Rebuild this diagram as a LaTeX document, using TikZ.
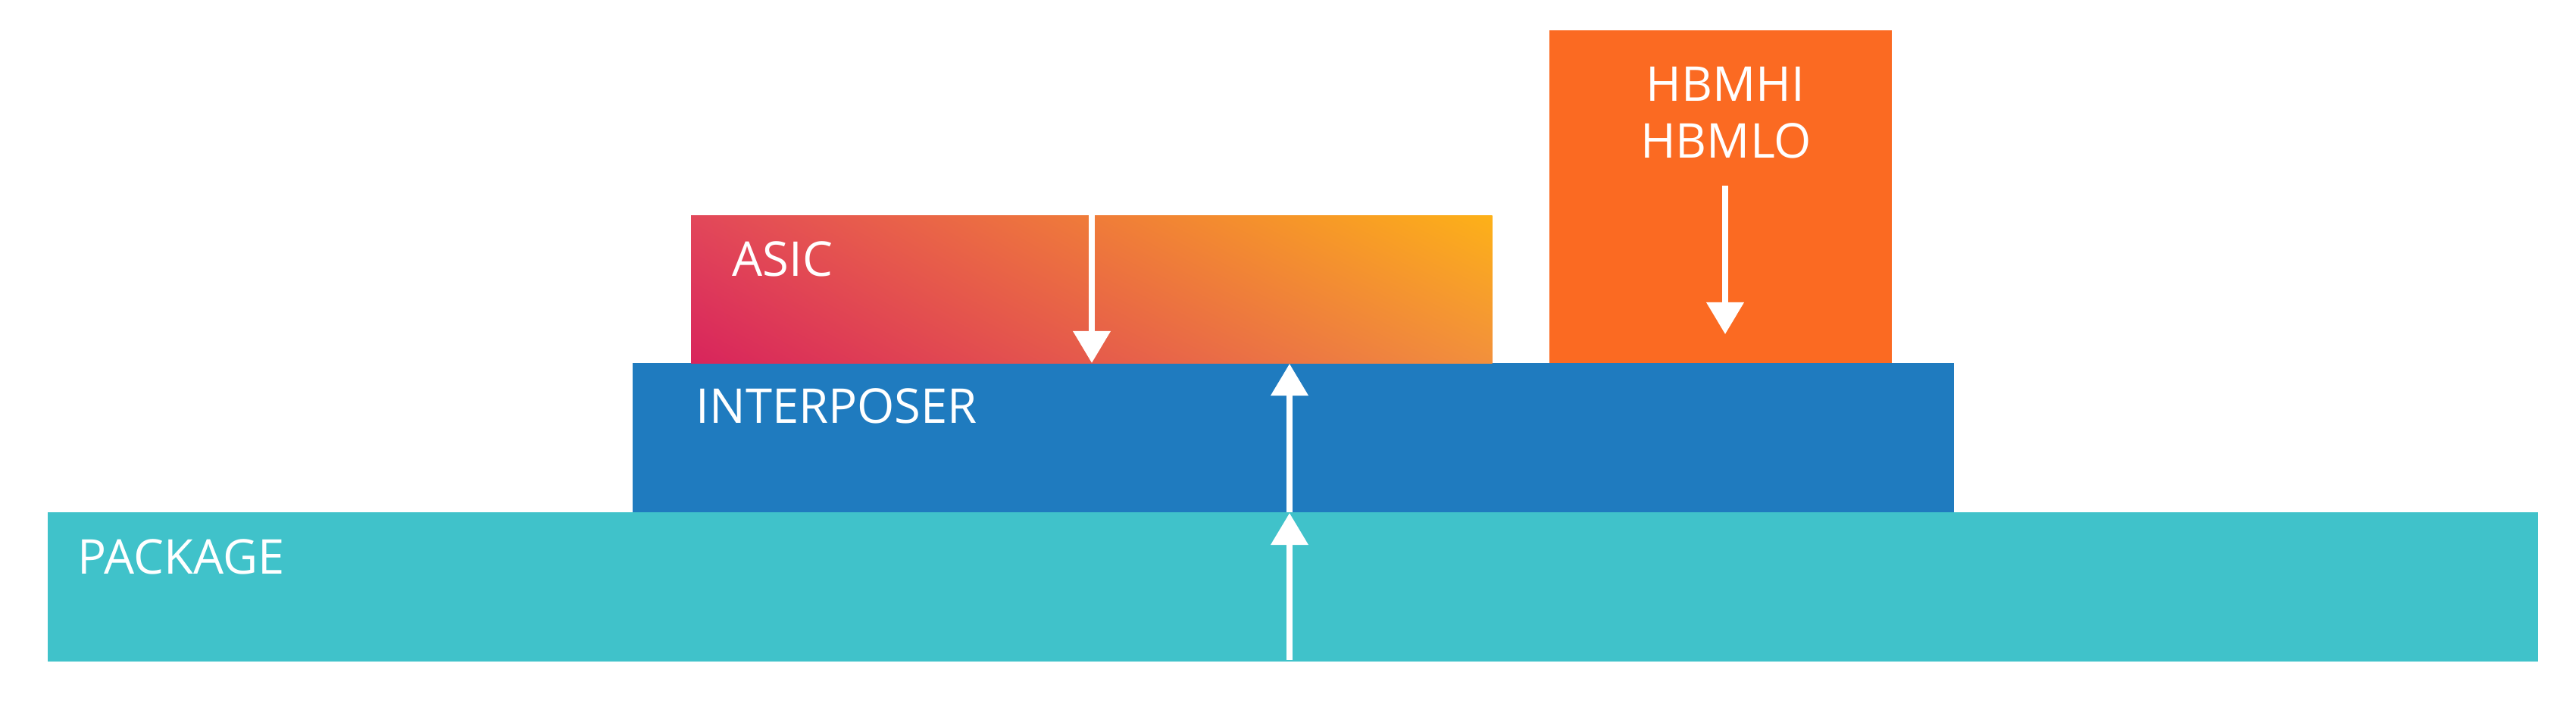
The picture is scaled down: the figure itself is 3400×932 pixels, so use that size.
\documentclass[tikz,border=0pt]{standalone}
\usepackage{fontspec}
\setmainfont{Open Sans}
\usetikzlibrary{arrows.meta,shadings}
\definecolor{pkgcol}{HTML}{40C2CA}
\definecolor{intcol}{HTML}{1F7BBF}
\definecolor{hbmcol}{HTML}{FB6A22}
\definecolor{asicUL}{HTML}{E2475A}
\definecolor{asicUR}{HTML}{FDB118}
\definecolor{asicLL}{HTML}{D8245C}
\definecolor{asicLR}{HTML}{F2903C}
\begin{document}
\begin{tikzpicture}[x=0.01cm,y=-0.01cm,
  layer/.style={draw=none,inner sep=0pt,outer sep=0pt,anchor=north west},
  lbl/.style={text=white,font=\fontsize{18pt}{21pt}\selectfont,inner sep=0pt,anchor=base west},
  flow/.style={draw=white,line width=2.1pt,-{Triangle[width=13.7pt,length=12pt]}}]
\useasboundingbox[fill=white] (0,0) rectangle (3400,932);
% layers
\node[layer,fill=pkgcol,minimum width=32.85cm,minimum height=1.97cm] (package) at (63,676) {};
\node[layer,fill=intcol,minimum width=17.43cm,minimum height=1.97cm] (interposer) at (835,479) {};
\node[layer,fill=hbmcol,minimum width=4.52cm,minimum height=4.39cm] (hbm) at (2045,40) {};
\node[layer,minimum width=10.57cm,minimum height=1.95cm,
  upper left=asicUL,upper right=asicUR,lower left=asicLL,lower right=asicLR] (asic) at (912,284) {};
% labels
\node[lbl] (tasic) at (966,364) {ASIC};
\node[lbl] (tint) at (918,558) {INTERPOSER};
\node[lbl] (tpkg) at (102,757) {PACKAGE};
\node[lbl,anchor=base] (thi) at (2277,133) {HBMHI};
\node[lbl,anchor=base] (tlo) at (2278,208) {HBMLO};
% arrow endpoints
\coordinate (a1s) at (1441,284);
\coordinate (a1e) at (1441,479);
\coordinate (a2s) at (1702,676);
\coordinate (a2e) at (1702,480);
\coordinate (a3s) at (1702,871);
\coordinate (a3e) at (1702,677);
\coordinate (a4s) at (2277,245);
\coordinate (a4e) at (2277,441);
\draw[flow] (a1s) -- (a1e);
\draw[flow] (a2s) -- (a2e);
\draw[flow] (a3s) -- (a3e);
\draw[flow] (a4s) -- (a4e);
\end{tikzpicture}
\end{document}
